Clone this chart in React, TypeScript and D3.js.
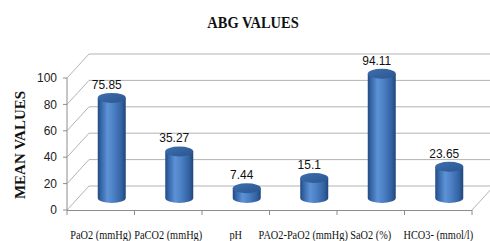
import React, { useEffect, useRef } from 'react';
import * as d3 from 'd3';

const categories = ['PaO2 (mmHg)', 'PaCO2 (mmHg)', 'pH', 'PAO2-PaO2 (mmHg)', 'SaO2 (%)', 'HCO3- (mmol/l)'];
const meanValues = [75.85, 35.27, 7.44, 15.1, 94.11, 23.65];
const valueLabels = ['75.85', '35.27', '7.44', '15.1', '94.11', '23.65'];
const yTicks = [0, 20, 40, 60, 80, 100];

const App: React.FC = () => {
  const svgRef = useRef<SVGSVGElement>(null);

  useEffect(() => {
    document.body.style.margin = '0';
    if (!svgRef.current) return;

    const width = 490;
    const height = 241;
    // 3D depth offset of the back wall
    const dx = 22;
    const dy = -24;

    const svg = d3.select(svgRef.current);
    svg.selectAll('*').remove();
    svg.attr('width', width).attr('height', height);

    const x = d3.scaleBand<string>().domain(categories).range([67, 472]);
    const y = d3.scaleLinear().domain([0, 100]).range([210, 78]);

    // gradients
    const defs = svg.append('defs');
    const body = defs.append('linearGradient').attr('id', 'cylBody')
      .attr('x1', '0').attr('x2', '1').attr('y1', '0').attr('y2', '0');
    [
      ['0%', '#234a80'], ['12%', '#3566a8'], ['35%', '#5d92d6'],
      ['55%', '#4e82c6'], ['85%', '#3262a2'], ['100%', '#21467a'],
    ].forEach(([o, c]) => body.append('stop').attr('offset', o).attr('stop-color', c));
    const top = defs.append('linearGradient').attr('id', 'cylTop')
      .attr('x1', '0').attr('x2', '1').attr('y1', '0').attr('y2', '1');
    [['0%', '#3e6fae'], ['100%', '#2a5690']]
      .forEach(([o, c]) => top.append('stop').attr('offset', o).attr('stop-color', c));

    const grid = svg.append('g').style('stroke', '#b3b3b3').style('stroke-width', 1).style('fill', 'none');

    // back wall gridlines + left wall diagonals
    yTicks.forEach(t => {
      grid.append('line')
        .attr('x1', x.range()[0] + dx).attr('x2', width)
        .attr('y1', y(t) + dy).attr('y2', y(t) + dy);
      grid.append('line')
        .attr('x1', x.range()[0]).attr('x2', x.range()[0] + dx)
        .attr('y1', y(t)).attr('y2', y(t) + dy);
    });

    // floor right edge
    grid.append('line')
      .attr('x1', x.range()[1]).attr('x2', x.range()[1] + dx)
      .attr('y1', y(0)).attr('y2', y(0) + dy);

    // front axes
    const axis = svg.append('g').style('stroke', '#8c8c8c').style('stroke-width', 1);
    axis.append('line')
      .attr('x1', x.range()[0]).attr('x2', x.range()[0])
      .attr('y1', y(100)).attr('y2', y(0));
    axis.append('line')
      .attr('x1', x.range()[0]).attr('x2', x.range()[1])
      .attr('y1', y(0) + 0.5).attr('y2', y(0) + 0.5);
    yTicks.forEach(t => {
      axis.append('line')
        .attr('x1', x.range()[0] - 4).attr('x2', x.range()[0])
        .attr('y1', y(t)).attr('y2', y(t));
    });
    const bounds = categories.map(c => x(c)!).concat([x.range()[1]]);
    bounds.forEach(b => {
      axis.append('line').attr('x1', b).attr('x2', b)
        .attr('y1', y(0)).attr('y2', y(0) + 5);
    });

    // y tick labels
    svg.append('g').selectAll('text').data(yTicks).enter().append('text')
      .attr('x', 57).attr('y', d => y(d)).attr('dy', '0.35em')
      .attr('text-anchor', 'end')
      .style('font-family', '"Liberation Sans", Arial, sans-serif')
      .style('font-size', '12px').style('fill', '#222')
      .text(d => d);

    // cylinders
    const r = 14;
    const ry = 5;
    const cyl = svg.append('g');
    meanValues.forEach((v, i) => {
      const cx = x(categories[i])! + x.bandwidth() / 2 + dx / 2;
      const base = y(0) + dy / 2;
      const topY = y(v) + dy / 2;
      cyl.append('path')
        .attr('d', `M${cx - r},${topY} L${cx - r},${base} A${r},${ry} 0 0 0 ${cx + r},${base} L${cx + r},${topY} Z`)
        .style('fill', 'url(#cylBody)');
      cyl.append('ellipse')
        .attr('cx', cx).attr('cy', topY).attr('rx', r).attr('ry', ry)
        .style('fill', 'url(#cylTop)');
      svg.append('text')
        .attr('transform', `translate(${cx - 5},${topY - 9}) scale(0.92,1)`)
        .attr('text-anchor', 'middle')
        .style('font-family', '"Liberation Sans", Arial, sans-serif')
        .style('font-size', '13px').style('fill', '#111')
        .text(valueLabels[i]);
    });

    // category labels
    categories.forEach(c => {
      svg.append('text')
        .attr('transform', `translate(${x(c)! + x.bandwidth() / 2},239) scale(0.86,1)`)
        .attr('text-anchor', 'middle')
        .style('font-family', '"Liberation Serif", "Times New Roman", serif')
        .style('font-size', '12px').style('fill', '#111')
        .text(c);
    });

    // title
    svg.append('text')
      .attr('transform', 'translate(253,28) scale(0.85,1)')
      .attr('text-anchor', 'middle')
      .style('font-family', '"Liberation Serif", "Times New Roman", serif')
      .style('font-size', '17px').style('font-weight', 'bold').style('fill', '#111')
      .text('ABG VALUES');

    // y axis title
    svg.append('text')
      .attr('transform', 'translate(25,145) rotate(-90)')
      .attr('text-anchor', 'middle')
      .style('font-family', '"Liberation Serif", "Times New Roman", serif')
      .style('font-size', '15px').style('font-weight', 'bold').style('fill', '#111')
      .text('MEAN VALUES');
  }, []);

  return <svg ref={svgRef} style={{ display: 'block', background: '#fff' }} />;
};

export default App;
